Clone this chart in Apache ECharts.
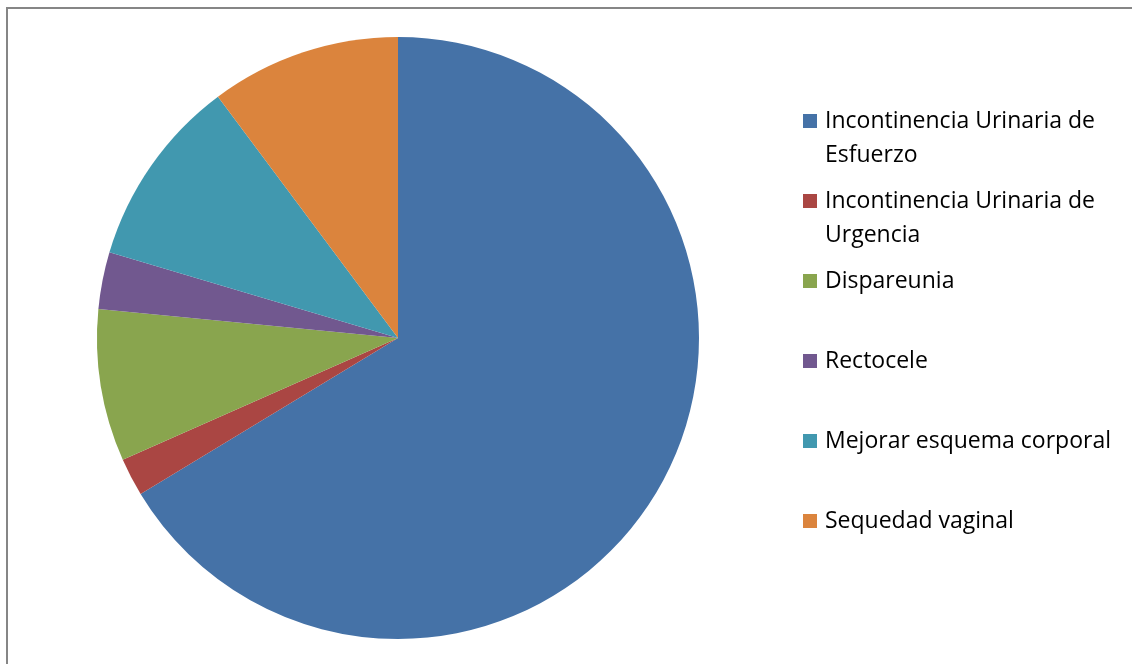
<!DOCTYPE html>
<html>
<head>
<meta charset="utf-8">
<script src="https://cdn.jsdelivr.net/npm/echarts@6/dist/echarts.min.js"></script>
<style>
  html, body { margin: 0; padding: 0; background: #fff; }
  #chart { width: 1132px; height: 664px; }
</style>
</head>
<body>
<div id="chart"></div>
<script>
// Motivos de consulta
const categories = [
  'Incontinencia Urinaria de Esfuerzo',
  'Incontinencia Urinaria de Urgencia',
  'Dispareunia',
  'Rectocele',
  'Mejorar esquema corporal',
  'Sequedad vaginal'
];
const values = [65, 2, 8, 3, 10, 10];
const colors = ['#4572A7', '#AA4643', '#89A54E', '#71588F', '#4198AF', '#DB843D'];
// Legend labels, wrapped as in the legend box
const legendLabels = [
  'Incontinencia Urinaria de\nEsfuerzo',
  'Incontinencia Urinaria de\nUrgencia',
  'Dispareunia',
  'Rectocele',
  'Mejorar esquema corporal',
  'Sequedad vaginal'
];

const FONT = '"Open Sans", sans-serif';
const LINE_H = 34;
const ICON = 14;
const legendX = 803;
const firstIconY = 121;
const legendStep = 80;

// One legend component per entry so each row sits at a fixed spot.
// Wrapped labels get a blank leading line so their first line lines up with the swatch.
const legends = categories.map((name, i) => {
  const extraLines = legendLabels[i].split('\n').length - 1;
  const text = '\n'.repeat(extraLines) + legendLabels[i];
  const blockH = (1 + 2 * extraLines) * LINE_H;
  const cy = firstIconY + i * legendStep;
  return {
    orient: 'vertical',
    left: legendX,
    top: cy - blockH / 2,
    padding: 0,
    itemWidth: ICON,
    itemHeight: ICON,
    itemGap: 0,
    icon: 'rect',
    data: [name],
    formatter: () => text,
    textStyle: {
      fontFamily: FONT,
      fontSize: 23,
      color: '#000',
      lineHeight: LINE_H,
      padding: [0, 0, 0, 3]
    }
  };
});

const chart = echarts.init(document.getElementById('chart'), null, { renderer: 'canvas' });
chart.setOption({
  animation: false,
  backgroundColor: '#fff',
  color: colors,
  legend: legends,
  graphic: [{
    type: 'rect',
    shape: { x: 7, y: 8, width: 1200, height: 800 },
    style: { fill: 'none', stroke: '#868686', lineWidth: 2 },
    silent: true
  }],
  series: [{
    type: 'pie',
    center: [398, 338],
    radius: 301,
    startAngle: 90,
    clockwise: true,
    label: { show: false },
    labelLine: { show: false },
    emphasis: { disabled: true },
    itemStyle: { borderWidth: 0 },
    data: categories.map((name, i) => ({ name: name, value: values[i] }))
  }]
});
</script>
</body>
</html>
